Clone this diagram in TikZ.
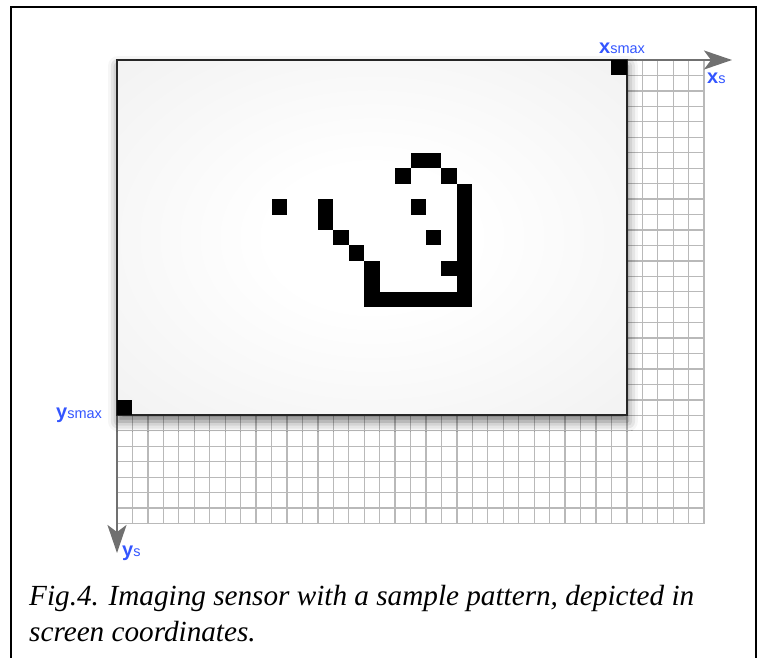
\documentclass[tikz,border=0pt]{standalone}
\usepackage{fontspec}
\setmainfont{Liberation Serif}
\newfontfamily\labelfont{Liberation Sans}
\usetikzlibrary{arrows.meta,shadows.blur}

\definecolor{axisgray}{RGB}{112,112,112}
\definecolor{gridgray}{RGB}{185,185,185}
\definecolor{labelblue}{RGB}{51,85,255}

% soft glow on the sensor face
\pgfdeclareradialshading{sensorglow}{\pgfpoint{0bp}{0bp}}{color(0bp)=(white); color(10bp)=(white); color(50bp)=(black!8)}

% big letter plus small index, as in x_smax
\newcommand{\axislabel}[2]{{\labelfont\color{labelblue}{\fontsize{20}{20}\selectfont\bfseries #1}{\fontsize{14.5}{14.5}\selectfont #2}}}

\tikzset{
  gridline/.style={draw=gridgray, line width=1.3pt},
  axisline/.style={draw=axisgray, line width=2.2pt, -{Stealth[length=28pt,width=19pt,inset=7pt]}},
  axislabel/.style={inner sep=0pt, anchor=base west},
  caption/.style={inner sep=0pt, anchor=base west, font=\itshape\fontsize{29.2}{34}\selectfont},
}

\begin{document}
\begin{tikzpicture}[x=1pt,y=-1pt]
	\useasboundingbox (0,0) rectangle (760,658);
	\coordinate (Origin)   at (117,60);
	\coordinate (XAxisMax) at (732,60);
	\coordinate (YAxisMax) at (117,553);
	\coordinate (SensorMax) at (626.9,415.4);

	% open frame round the figure
	\draw[line width=2pt] (11,660) -- (11,7) -- (756,7) -- (756,660);

	% pixel grid, one unit = one pixel
	\begin{scope}[shift={(Origin)}, x=15.45pt, y=-15.45pt]
	\foreach \c in {0,...,38}
	  \draw[gridline] (\c,0) -- (\c,30);
	\foreach \r in {0,...,30}
	  \draw[gridline] (0,\r) -- (38,\r);
	\end{scope}

	\draw[axisline] (Origin) -- (XAxisMax);% x axis
	\draw[axisline] (Origin) -- (YAxisMax);% y axis

	% the sensor itself
	\shadedraw[shading=sensorglow, draw=black!85, line width=2pt,
	  blur shadow={shadow xshift=1pt, shadow yshift=-6pt, shadow blur radius=10pt, shadow opacity=55}]
	  (Origin) rectangle (SensorMax);

	\begin{scope}[shift={(Origin)}, x=15.45pt, y=-15.45pt]
	% corner pixels
	\fill (32,0) rectangle ++(1,1);
	\fill (0,22) rectangle ++(1,1);
	% sample pattern
	\foreach \c/\r in {10/9, 13/9, 13/10, 14/11, 15/12, 16/13, 16/14,
	                   19/6, 20/6, 18/7, 21/7, 19/9, 20/11, 21/13}
	  \fill (\c,\r) rectangle ++(1,1);
	\foreach \c in {16,...,22}
	  \fill (\c,15) rectangle ++(1,1);
	\foreach \r in {8,...,14}
	  \fill (22,\r) rectangle ++(1,1);
	\end{scope}

	% axis labels
	\node[axislabel] (XsMax) at (599,54)  {\axislabel{x}{smax}};
	\node[axislabel] (Xs)    at (707,84)  {\axislabel{x}{s}};
	\node[axislabel] (YsMax) at (56,418)  {\axislabel{y}{smax}};
	\node[axislabel] (Ys)    at (122,556) {\axislabel{y}{s}};

	\node[caption] (CaptionA) at (29,605) {Fig.4. Imaging sensor with a sample pattern, depicted in};
	\node[caption] (CaptionB) at (29,641) {screen coordinates.};
\end{tikzpicture}
\end{document}
